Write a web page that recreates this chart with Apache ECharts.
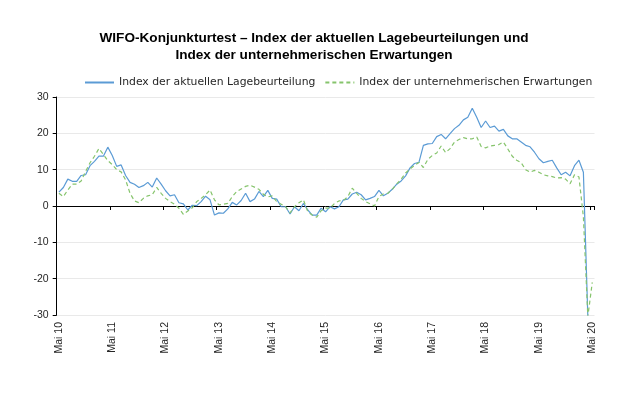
<!DOCTYPE html>
<html>
<head>
<meta charset="utf-8">
<script src="https://cdn.jsdelivr.net/npm/echarts@6/dist/echarts.min.js"></script>
<style>
html,body{margin:0;padding:0;background:#fff;}
#chart{width:643px;height:398px;}
</style>
</head>
<body>
<div id="chart"></div>
<script>
// Monthly categories: Mai 2010 .. Mai 2020
const monthNames = ["Jän","Feb","Mär","Apr","Mai","Jun","Jul","Aug","Sep","Okt","Nov","Dez"];
const categories = [];
for (let y = 2010, m = 4; y < 2020 || (y === 2020 && m <= 4); ) {
  categories.push(monthNames[m] + " " + String(y).slice(2));
  m++; if (m > 11) { m = 0; y++; }
}

const seriesNames = ["Index der aktuellen Lagebeurteilung", "Index der unternehmerischen Erwartungen"];

// Index der aktuellen Lagebeurteilungen (Mai 10 .. Apr 20)
const lage = [
  3.8, 5.1, 7.4, 6.8, 6.8, 8.4, 8.6, 11.1, 12.3, 13.7, 13.7, 16.2,
  13.9, 10.9, 11.3, 8.4, 6.5, 6.0, 5.1, 5.6, 6.5, 5.2, 7.7, 6.0,
  4.2, 2.8, 3.1, 0.9, 0.6, -1.1, 0.2, 0.1, 1.2, 2.7, 1.7, -2.5,
  -1.9, -2.0, -0.8, 1.0, 0.3, 1.5, 3.5, 1.2, 1.9, 4.0, 2.6, 4.3,
  2.1, 1.9, -0.2, -0.2, -2.2, -0.2, -1.3, 0.7, -1.1, -2.5, -2.5, -0.6,
  -1.6, -0.2, -0.8, -0.2, 1.7, 1.9, 3.3, 3.8, 3.1, 1.7, 2.1, 2.6,
  4.3, 2.8, 3.5, 4.6, 6.0, 6.9, 8.3, 10.5, 11.7, 12.0, 16.7, 17.1,
  17.2, 19.1, 19.7, 18.5, 19.9, 21.3, 22.2, 23.7, 24.4, 26.9, 24.4, 21.6,
  23.4, 21.6, 22.0, 20.6, 21.1, 19.3, 18.5, 18.5, 17.6, 16.7, 16.3, 14.8,
  13.0, 11.9, 12.3, 12.6, 10.5, 8.6, 9.3, 8.3, 11.1, 12.6, 9.3, -30.5,
  null
];

// Index der unternehmerischen Erwartungen (Mai 10 .. Mai 20)
const erwartungen = [
  3.5, 2.6, 4.4, 6.0, 6.0, 6.9, 9.5, 11.9, 13.7, 15.8, 14.2, 12.5,
  11.4, 10.0, 9.4, 7.2, 3.5, 1.4, 0.9, 2.1, 2.8, 3.1, 5.1, 3.5,
  2.1, 1.2, 0.5, -0.6, -2.3, -1.4, -0.5, 1.2, 2.1, 3.1, 4.4, 1.7,
  0.3, 0.5, 0.7, 2.6, 4.0, 4.7, 5.4, 5.7, 5.2, 4.6, 3.2, 2.5,
  2.8, 1.2, 0.5, -0.2, -1.9, -0.2, 0.9, 1.7, -1.6, -2.5, -3.1, -1.3,
  -0.6, -0.6, 0.7, 1.4, 1.5, 2.6, 4.9, 3.5, 2.1, 1.2, 0.6, 0.0,
  2.6, 3.3, 3.5, 4.6, 6.1, 7.4, 9.1, 10.2, 11.2, 12.0, 10.6, 12.8,
  13.9, 14.6, 16.5, 14.7, 15.8, 17.6, 18.3, 18.8, 18.5, 18.5, 19.0, 16.4,
  16.0, 16.5, 16.7, 16.9, 17.6, 15.7, 13.7, 12.6, 11.9, 10.0, 9.3, 9.8,
  9.3, 8.6, 8.3, 8.1, 7.7, 7.8, 7.4, 6.1, 8.6, 8.0, -3.0, -30.5,
  -21.0
];

const yMin = -30, yMax = 30, yStep = 10;

const FONT = "Liberation Sans";
const LFONT = "DejaVu Sans";
const chart = echarts.init(document.getElementById('chart'), null, {renderer: 'canvas'});
chart.setOption({
  animation: false,
  backgroundColor: '#ffffff',
  title: {
    text: "WIFO-Konjunkturtest – Index der aktuellen Lagebeurteilungen und\nIndex der unternehmerischen Erwartungen",
    left: 309, top: 25, textAlign: 'center',
    textStyle: {fontFamily: FONT, fontSize: 13.6, fontWeight: 'bold', color: '#000', lineHeight: 17}
  },
  legend: {
    left: 79, top: 72,
    itemWidth: 29, itemHeight: 10, itemGap: 9,
    itemStyle: {opacity: 0},
    textStyle: {fontFamily: LFONT, fontSize: 10.8, color: '#262626'},
    data: seriesNames
  },
  grid: {left: 56.7, right: 48.5, top: 97, bottom: 83, containLabel: false},
  xAxis: [
    {
      type: 'category', data: categories, boundaryGap: true,
      axisLine: {onZero: true, lineStyle: {color: '#000', width: 1}},
      axisTick: {show: true, interval: 11, length: 4, inside: false, lineStyle: {color: '#000'}},
      axisLabel: {show: false},
      splitLine: {show: false}
    },
    {
      type: 'category', data: categories, boundaryGap: true, position: 'bottom',
      axisLine: {show: false, onZero: false},
      axisTick: {show: false},
      axisLabel: {show: true, interval: 11, rotate: 90, margin: 7,
        fontFamily: FONT, fontSize: 10.5, color: '#262626'},
      splitLine: {show: false}
    }
  ],
  yAxis: {
    type: 'value', min: yMin, max: yMax, interval: yStep,
    axisLine: {show: true, lineStyle: {color: '#000', width: 1}},
    axisTick: {show: true, length: 4, lineStyle: {color: '#000'}},
    axisLabel: {fontFamily: FONT, fontSize: 10.5, color: '#262626', margin: 8},
    splitLine: {show: true, lineStyle: {color: '#e9e9e9', width: 1}}
  },
  series: [
    {
      name: seriesNames[0], type: 'line', data: lage, xAxisIndex: 0,
      showSymbol: false, symbol: 'none', connectNulls: false,
      lineStyle: {color: '#5b9bd5', width: 1.2},
      itemStyle: {color: '#5b9bd5'}
    },
    {
      name: seriesNames[1], type: 'line', data: erwartungen, xAxisIndex: 0,
      showSymbol: false, symbol: 'none',
      lineStyle: {color: '#86c46c', width: 1.2, type: [4, 3]},
      itemStyle: {color: '#86c46c'}
    }
  ]
});
</script>
</body>
</html>
